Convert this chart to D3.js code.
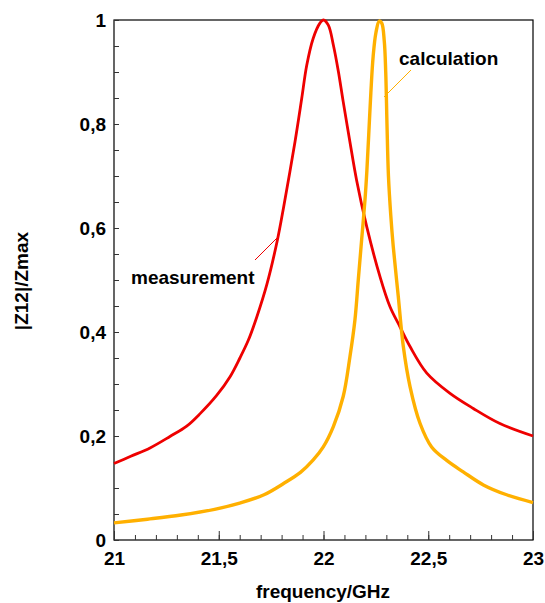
<html>
<head>
<style>
  body { margin: 0; background: #fff; }
  text { font-family: "Liberation Sans", Arial, sans-serif; font-weight: bold; }
</style>
</head>
<body>
<svg id="chart" width="545" height="603"></svg>
<script src="https://d3js.org/d3.v7.min.js"></script>
<script>
  const measFreq = [21, 21.08, 21.172, 21.267, 21.347, 21.411, 21.49, 21.554, 21.601, 21.641, 21.68, 21.73, 21.78, 21.81, 21.864, 21.896, 21.92, 21.951, 21.983, 22.0,
                    22.023, 22.047, 22.071, 22.094, 22.126, 22.158, 22.206, 22.27, 22.317, 22.365, 22.413, 22.493, 22.604, 22.715, 22.842, 23]
  const measVal = [0.147, 0.161, 0.177, 0.199, 0.219, 0.243, 0.278, 0.314, 0.35, 0.384, 0.427, 0.492, 0.577, 0.641, 0.766, 0.849, 0.913, 0.965, 0.994, 1.0,
                   0.99, 0.952, 0.901, 0.843, 0.766, 0.692, 0.603, 0.506, 0.449, 0.41, 0.372, 0.321, 0.282, 0.253, 0.224, 0.2]

  // calculation (orange)
  const calcFreq = [21, 21.16, 21.32, 21.48, 21.6, 21.716, 21.811, 21.89, 21.951, 21.999, 22.047, 22.094, 22.126, 22.15, 22.166, 22.182, 22.198,
                    22.207, 22.216, 22.226, 22.237, 22.25, 22.266, 22.278, 22.29, 22.297, 22.303, 22.31, 22.321, 22.333, 22.357, 22.381, 22.413, 22.461,
                    22.516, 22.588, 22.667, 22.763, 22.874, 23]
  const calcVal = [0.033, 0.04, 0.048, 0.059, 0.071, 0.087, 0.109, 0.13, 0.154, 0.179, 0.218, 0.276, 0.352, 0.423, 0.5, 0.577, 0.654,
                   0.71, 0.78, 0.86, 0.93, 0.975, 0.998, 0.994, 0.96, 0.9, 0.8, 0.7, 0.625, 0.564, 0.468, 0.372, 0.295, 0.224,
                   0.179, 0.153, 0.131, 0.106, 0.087, 0.072]

  const xMajor = [21, 21.5, 22, 22.5, 23]
  const xMinor = d3.range(21, 23.001, 0.1)
  const yMajor = [0, 0.2, 0.4, 0.6, 0.8, 1]
  const yMinor = d3.range(0, 1.001, 0.05)

  let svg = d3.select("#chart")
  let x = d3.scaleLinear().domain([21, 23]).range([114, 533])
  let y = d3.scaleLinear().domain([0, 1]).range([540, 20])

  const comma = d => String(d).replace(".", ",")

  // frame
  svg.append("rect")
    .attr("x", x(21)).attr("y", y(1))
    .attr("width", x(23) - x(21)).attr("height", y(0) - y(1))
    .attr("fill", "none").attr("stroke", "#000").attr("stroke-width", 1.2)

  // x axis: minor ticks, then major ticks with labels
  svg.append("g").attr("transform", `translate(0,${y(0)})`)
    .call(d3.axisBottom(x).tickValues(xMinor).tickSize(-5).tickFormat(""))
  let xMaj = svg.append("g").attr("transform", `translate(0,${y(0)})`)
    .call(d3.axisBottom(x).tickValues(xMajor).tickSize(-9).tickPadding(12).tickFormat(comma))
  xMaj.selectAll("text").attr("font-size", 19).attr("fill", "#000")
    .style("font-family", '"Liberation Sans", Arial, sans-serif').style("font-weight", "bold")

  // y axis
  svg.append("g").attr("transform", `translate(${x(21)},0)`)
    .call(d3.axisLeft(y).tickValues(yMinor).tickSize(-5).tickFormat(""))
  let yMaj = svg.append("g").attr("transform", `translate(${x(21)},0)`)
    .call(d3.axisLeft(y).tickValues(yMajor).tickSize(-5).tickPadding(8).tickFormat(comma))
  yMaj.selectAll("text").attr("font-size", 19).attr("fill", "#000")
    .style("font-family", '"Liberation Sans", Arial, sans-serif').style("font-weight", "bold")

  svg.selectAll(".domain").remove()
  svg.selectAll(".tick line").attr("stroke", "#333")

  // curves
  let line = d3.line().x(d => x(d[0])).y(d => y(d[1])).curve(d3.curveCatmullRom.alpha(0.5))

  svg.append("path")
    .datum(measFreq.map((f, i) => [f, measVal[i]]))
    .attr("d", line).attr("fill", "none")
    .attr("stroke", "#ee0000").attr("stroke-width", 2.8)

  svg.append("path")
    .datum(calcFreq.map((f, i) => [f, calcVal[i]]))
    .attr("d", line).attr("fill", "none")
    .attr("stroke", "#ffb000").attr("stroke-width", 3.4)

  // annotations
  svg.append("line")
    .attr("x1", 255).attr("y1", 260).attr("x2", 278).attr("y2", 237)
    .attr("stroke", "#ee0000").attr("stroke-width", 1)
  svg.append("text").attr("x", 131).attr("y", 284).attr("font-size", 19).text("measurement")

  svg.append("line")
    .attr("x1", 411).attr("y1", 70).attr("x2", 384).attr("y2", 97)
    .attr("stroke", "#ffb000").attr("stroke-width", 1)
  svg.append("text").attr("x", 399).attr("y", 65).attr("font-size", 19).text("calculation")

  // axis titles
  svg.append("text").attr("x", 323).attr("y", 598).attr("text-anchor", "middle")
    .attr("font-size", 19).text("frequency/GHz")
  svg.append("text").attr("transform", "translate(28,281) rotate(-90)").attr("text-anchor", "middle")
    .attr("font-size", 19).text("|Z12|/Zmax")
</script>
</body>
</html>
